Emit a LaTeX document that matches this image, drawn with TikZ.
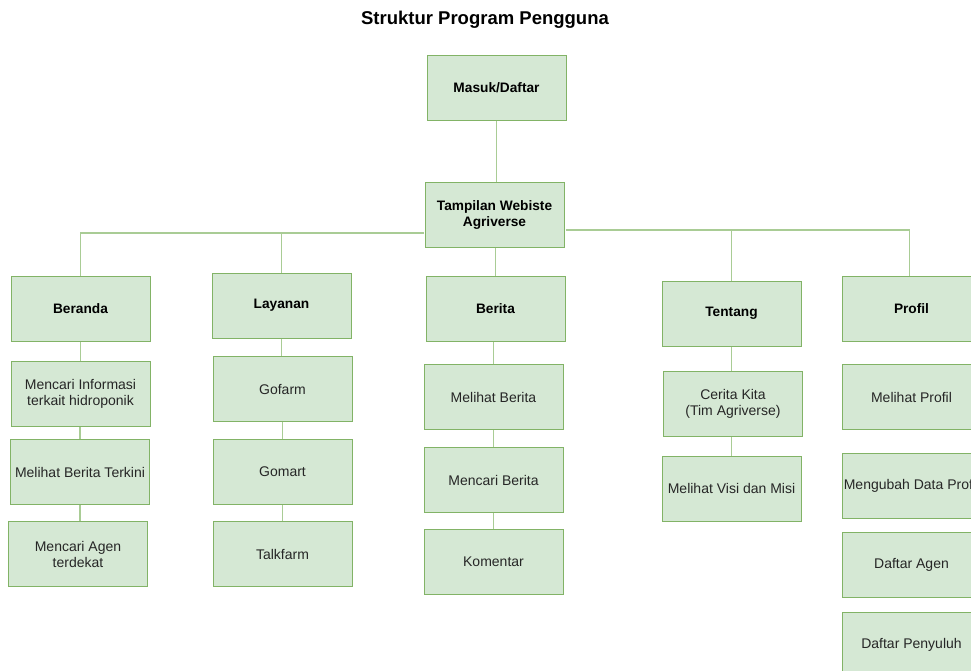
\documentclass[tikz,border=0pt]{standalone}
\usepackage{fontspec}
\setmainfont{Liberation Sans}
\usepackage{tikz}
\usetikzlibrary{positioning}
\definecolor{boxfill}{HTML}{D5E8D4}
\definecolor{boxline}{HTML}{82B366}
\definecolor{linkline}{HTML}{A9CC95}

\begin{document}
\begin{tikzpicture}[x=1pt,y=-1pt]
  \tikzset{
    box/.style={draw=boxline, fill=boxfill, line width=1pt, minimum width=139pt, minimum height=65pt, align=center, inner sep=0pt, text=black!85, font=\fontsize{14}{16}\selectfont},
    head/.style={box, text=black, font=\fontsize{13.7}{16}\selectfont\bfseries},
    link/.style={draw=linkline, line width=1.3pt}
  }

  % canvas (right column runs off the edge)
  \useasboundingbox (0,0) rectangle (971,670);
  \fill[white] (0,0) rectangle (971,670);
  \clip (0,0) rectangle (971,670);

  \node[font=\fontsize{18.5}{20}\selectfont\bfseries] (title) at (485,20) {Struktur Program Pengguna};

  % top
  \node[head] (masuk) at (496.5,87.5) {Masuk/Daftar};
  \node[head] (tampil) at (494.5,215) {Tampilan Webiste\\Agriverse};

  % menu row
  \node[head] (beranda) at (80.5,308.5) {Beranda};
  \node[head] (layanan) at (281.5,305.5) {Layanan};
  \node[head] (berita) at (495.5,308.5) {Berita};
  \node[head] (tentang) at (731.5,313.5) {Tentang};
  \node[head] (profil) at (911.5,308.5) {Profil};

  % Beranda
  \node[box] (infoHidro) at (80.5,394) {Mencari Informasi\\terkait hidroponik};
  \node[box] (beritaBaru) at (80,472) {Melihat Berita Terkini};
  \node[box] (cariAgen) at (78,554) {Mencari Agen\\terdekat};

  % Layanan
  \node[box] (gofarm) at (282.5,389) {Gofarm};
  \node[box] (gomart) at (282.5,472) {Gomart};
  \node[box] (talkfarm) at (282.5,554) {Talkfarm};

  % Berita
  \node[box] (lihatBerita) at (493.5,397) {Melihat Berita};
  \node[box] (cariBerita) at (493.5,480) {Mencari Berita};
  \node[box] (komentar) at (493.5,562) {Komentar};

  % Tentang
  \node[box] (cerita) at (733,404) {Cerita Kita\\(Tim Agriverse)};
  \node[box] (visiMisi) at (731.5,488.5) {Melihat Visi dan Misi};

  % Profil
  \node[box] (lihatProfil) at (911.5,397) {Melihat Profil};
  \node[box] (ubahProfil) at (911.5,485.5) {Mengubah Data Profil};
  \node[box] (daftarAgen) at (911.5,565) {Daftar Agen};
  \node[box] (daftarPenyuluh) at (911.5,645) {Daftar Penyuluh};

  % bus coordinates
  \coordinate (busL) at (423.5,233);
  \coordinate (busR) at (565.5,230);

  % connectors
  \draw[link] (masuk.south) -- (masuk.south |- tampil.north);
  \draw[link] (busL) -| (beranda.north);
  \draw[link] (layanan.north) -- (layanan.north |- busL);
  \draw[link] (berita.north) -- (berita.north |- tampil.south);
  \draw[link] (busR) -| ([xshift=-2pt]profil.north);
  \draw[link] (tentang.north) -- (tentang.north |- busR);

  \draw[link] (beranda.south) -- (beranda.south |- infoHidro.north);
  \draw[link] (beritaBaru.north) -- (beritaBaru.north |- infoHidro.south);
  \draw[link] (beritaBaru.south) -- (beritaBaru.south |- cariAgen.north);
  \draw[link] (layanan.south) -- (layanan.south |- gofarm.north);
  \draw[link] (gofarm) -- (gomart);
  \draw[link] (gomart) -- (talkfarm);
  \draw[link] (lihatBerita.north) -- (lihatBerita.north |- berita.south);
  \draw[link] (lihatBerita) -- (cariBerita);
  \draw[link] (cariBerita) -- (komentar);
  \draw[link] (tentang.south) -- (tentang.south |- cerita.north);
  \draw[link] (visiMisi.north) -- (visiMisi.north |- cerita.south);
\end{tikzpicture}
\end{document}
